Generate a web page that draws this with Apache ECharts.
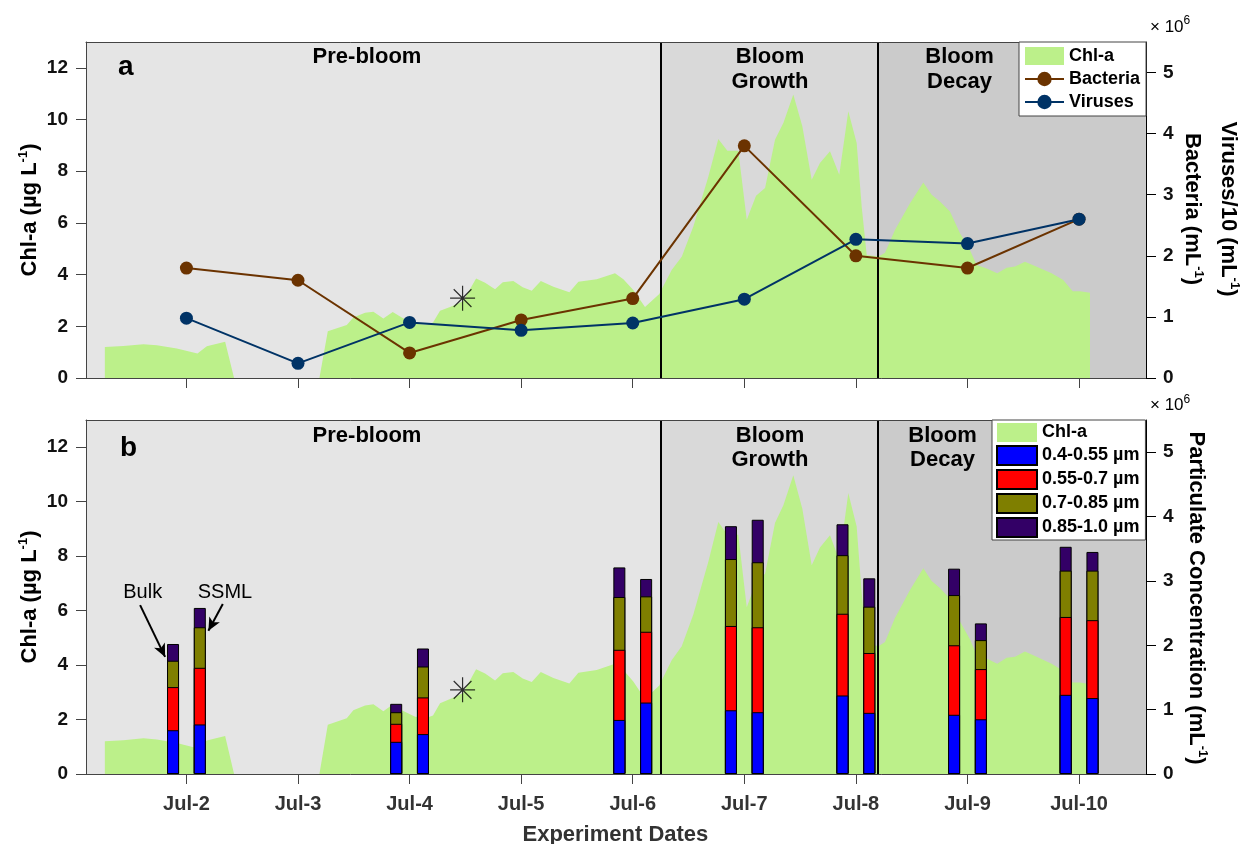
<!DOCTYPE html>
<html><head><meta charset="utf-8">
<script src="https://cdn.jsdelivr.net/npm/echarts@6/dist/echarts.min.js"></script>
<style>html,body{margin:0;padding:0;background:#fff}#c{width:1248px;height:844px}</style>
</head><body><div id="c"></div>
<script>
// ---------- data ----------
const dayTicks   = [2, 3, 4, 5, 6, 7, 8, 9, 10];
const tickLabels = ['Jul-2','Jul-3','Jul-4','Jul-5','Jul-6','Jul-7','Jul-8','Jul-9','Jul-10'];
const chlTicks   = [0, 2, 4, 6, 8, 10, 12];
const rightTicks = [0, 1, 2, 3, 4, 5];
const xMin = 1.10, xMax = 10.60;
const phaseBounds = [6.254, 8.204];

const chlDay = [1.269,1.435,1.615,1.735,1.914,2.099,2.183,2.347,2.427,3.192,3.267,3.437,3.496,3.601,3.676,3.765,3.849,3.930,4.050,4.150,4.210,4.273,4.363,4.480,4.596,4.677,4.766,4.835,4.930,5.014,5.095,5.176,5.289,5.432,5.513,5.677,5.841,5.916,6.005,6.110,6.238,6.349,6.439,6.543,6.678,6.767,6.848,6.946,7.022,7.105,7.186,7.275,7.350,7.439,7.520,7.604,7.678,7.768,7.851,7.932,8.007,8.052,8.097,8.205,8.261,8.350,8.485,8.604,8.679,8.753,8.843,8.933,9.022,9.082,9.172,9.267,9.351,9.426,9.515,9.605,9.754,9.858,9.943,10.008,10.098];
const chlVal = [1.20,1.24,1.31,1.27,1.14,0.95,1.23,1.40,0,0,1.81,2.05,2.34,2.52,2.56,2.30,2.55,2.34,2.10,2.06,2.15,2.60,2.75,2.97,3.85,3.69,3.43,3.70,3.75,3.51,3.38,3.75,3.53,3.32,3.72,3.82,4.05,3.82,3.40,2.75,3.25,4.18,4.69,5.86,7.80,9.25,8.79,8.79,6.12,7.05,7.35,9.22,9.87,10.97,9.74,7.67,8.32,8.77,7.86,10.32,9.09,6.63,4.76,4.70,4.85,5.73,6.76,7.56,7.09,6.83,6.44,5.60,4.95,4.37,4.24,4.05,4.27,4.31,4.50,4.33,4.05,3.79,3.36,3.36,3.30];

const sampleDays = [2, 3, 4, 5, 6, 7, 8, 9, 10];
const bacteria   = [1.80, 1.60, 0.41, 0.95, 1.30, 3.80, 2.00, 1.80, 2.60];
const viruses    = [0.98, 0.24, 0.91, 0.78, 0.90, 1.29, 2.27, 2.20, 2.60];

const starPoint = [4.475, 3.09];

const particleDays = [2, 4, 6, 7, 8, 9, 10];
const bulk040 = [0.68, 0.50, 0.84, 0.99, 1.22, 0.92, 1.23];
const bulk055 = [0.67, 0.28, 1.09, 1.31, 1.27, 1.08, 1.21];
const bulk070 = [0.41, 0.18, 0.82, 1.04, 0.91, 0.78, 0.72];
const bulk085 = [0.26, 0.13, 0.46, 0.51, 0.48, 0.41, 0.37];
const ssml040 = [0.77, 0.62, 1.11, 0.96, 0.95, 0.85, 1.18];
const ssml055 = [0.88, 0.57, 1.10, 1.32, 0.93, 0.78, 1.21];
const ssml070 = [0.63, 0.48, 0.55, 1.01, 0.72, 0.45, 0.77];
const ssml085 = [0.30, 0.28, 0.27, 0.66, 0.44, 0.26, 0.29];
const sizeNames = ['0.4-0.55 µm', '0.55-0.7 µm', '0.7-0.85 µm', '0.85-1.0 µm'];
const sampleOffset = 0.12;   // Bulk left of the day, SSML right

const arrowBulk = [[1.585, 6.20], [1.809, 4.30]];
const arrowSsml = [[2.326, 6.24], [2.197, 5.26]];

// ---------- styling ----------
const FONT = '"Liberation Sans", Arial, Helvetica, sans-serif';
const GREEN = '#bcf08a', BROWN = '#6b3300', NAVY = '#003366';
const BAR_COLORS = ['#0000ff', '#ff0000', '#7f7f00', '#330066'];

const chlData = chlDay.map((d, i) => [d, chlVal[i]]);
const zip = (xs, ys) => xs.map((x, i) => [x, ys[i]]);

// cumulative (stacked) tops of each size class
const bulkSets = [bulk040, bulk055, bulk070, bulk085];
const ssmlSets = [ssml040, ssml055, ssml070, ssml085];
const cumulate = sets => sets.map((s, k) => s.map((_, i) => {
  let t = 0; for (let j = 0; j <= k; j++) t += sets[j][i]; return +t.toFixed(3);
}));
const bulkCum = cumulate(bulkSets), ssmlCum = cumulate(ssmlSets);
const barData = (b, s) => particleDays.map((d, i) => [d - sampleOffset, b[i]])
  .concat(particleDays.map((d, i) => [d + sampleOffset, s[i]]));

function xAx(grid, pos, labels) {
  return {
    type: 'value', gridIndex: grid, position: pos, min: xMin, max: xMax, z: 10,
    axisLine: { show: true, onZero: false, lineStyle: { color: '#444', width: 1 } },
    axisTick: pos === 'bottom' ? { show: true, inside: false, length: 10, customValues: dayTicks, lineStyle: { color: '#444' } } : { show: false },
    axisLabel: labels ? {
      show: true, customValues: dayTicks, margin: 20,
      formatter: v => tickLabels[dayTicks.indexOf(Math.round(v))],
      fontSize: 20, fontWeight: 'bold', color: '#333', fontFamily: FONT
    } : { show: false },
    splitLine: { show: false }
  };
}
function yAx(grid, pos, max, ticks) {
  const c = pos === 'left' ? '#444' : '#000';
  return {
    type: 'value', gridIndex: grid, position: pos, min: 0, max: max, z: 10,
    axisLine: { show: true, onZero: false, lineStyle: { color: c, width: 1 } },
    axisTick: { show: true, inside: false, length: 10, customValues: ticks, lineStyle: { color: c } },
    axisLabel: { show: true, customValues: ticks, margin: pos === 'left' ? 18 : 17,
      fontSize: 19, fontWeight: 'bold', color: '#111', fontFamily: FONT },
    splitLine: { show: false }
  };
}

function panelSeries(g) {
  const xi = g, yl = g * 2;
  const list = [];
  list.push({
    type: 'line', name: 'bg' + g, xAxisIndex: xi, yAxisIndex: yl, data: [], z: 1, silent: true,
    markArea: { silent: true, data: [
      [{ xAxis: phaseBounds[0], itemStyle: { color: '#d9d9d9' } }, { xAxis: phaseBounds[1] }],
      [{ xAxis: phaseBounds[1], itemStyle: { color: '#cbcbcb' } }, { xAxis: xMax }]
    ] }
  });
  list.push({
    type: 'line', name: 'Chl-a', xAxisIndex: xi, yAxisIndex: yl, data: chlData, z: 2,
    symbol: 'none', showSymbol: false, color: GREEN,
    lineStyle: { width: 0, opacity: 0 }, areaStyle: { color: GREEN, opacity: 1 }
  });
  list.push({
    type: 'line', name: 'phase' + g, xAxisIndex: xi, yAxisIndex: yl, data: [], z: 6, silent: true,
    markLine: { silent: true, symbol: 'none', label: { show: false },
      lineStyle: { color: '#000', width: 2, type: 'solid' },
      data: phaseBounds.map(b => ({ xAxis: b })) }
  });
  list.push({
    type: 'scatter', name: 'star' + g, xAxisIndex: xi, yAxisIndex: yl, data: [starPoint], z: 7,
    symbol: 'path://M12 0 L12 24 M0 12 L24 12 M3.5 3.5 L20.5 20.5 M3.5 20.5 L20.5 3.5',
    symbolSize: 25, itemStyle: { color: 'rgba(0,0,0,0)', borderColor: '#000', borderWidth: 1.2 }
  });
  return list;
}

const series = [];
series.push(...panelSeries(0));
series.push({
  type: 'line', name: 'Bacteria', xAxisIndex: 0, yAxisIndex: 1, data: zip(sampleDays, bacteria), z: 5,
  color: BROWN, symbol: 'circle', symbolSize: 13, lineStyle: { width: 2, color: BROWN }, itemStyle: { color: BROWN }
});
series.push({
  type: 'line', name: 'Viruses', xAxisIndex: 0, yAxisIndex: 1, data: zip(sampleDays, viruses), z: 5,
  color: NAVY, symbol: 'circle', symbolSize: 13, lineStyle: { width: 2, color: NAVY }, itemStyle: { color: NAVY }
});
series.push(...panelSeries(1));
// draw the tallest cumulative class first so lower classes sit on top of it
[3, 2, 1, 0].forEach(k => {
  series.push({
    type: 'bar', name: sizeNames[k], xAxisIndex: 1, yAxisIndex: 3, z: 4,
    data: barData(bulkCum[k], ssmlCum[k]), barWidth: 12, barGap: '-100%', color: BAR_COLORS[k],
    itemStyle: { color: BAR_COLORS[k], borderColor: '#000', borderWidth: 1 }
  });
});
series.push({
  type: 'line', name: 'arrows', xAxisIndex: 1, yAxisIndex: 2, data: [], z: 8, silent: true,
  markLine: { silent: true, symbol: ['none', 'arrow'], symbolSize: [9, 13], label: { show: false },
    lineStyle: { color: '#000', width: 2, type: 'solid' },
    data: [
      [{ coord: arrowBulk[0] }, { coord: arrowBulk[1] }],
      [{ coord: arrowSsml[0] }, { coord: arrowSsml[1] }]
    ] }
});

// ---------- text helpers ----------
function T(x, base, text, size, weight, align, fill) {
  return {
    type: 'text', x: x, y: base - 0.35 * size, z: 100,
    style: { text: text, font: (weight || 'bold') + ' ' + size + 'px ' + FONT, fill: fill || '#000',
      align: align || 'center', verticalAlign: 'middle' }
  };
}
function RT(cx, cy, rot, main) {
  return {
    type: 'text', x: cx, y: cy, rotation: rot, z: 100,
    style: {
      text: '{m|' + main + '}{s|-1}{m|)}',
      align: 'center', verticalAlign: 'middle',
      rich: {
        m: { font: 'bold 22px ' + FONT, fill: '#000', lineHeight: 26 },
        s: { font: 'bold 13px ' + FONT, fill: '#000', verticalAlign: 'top', lineHeight: 14 }
      }
    }
  };
}

const graphics = [
  T(118, 76.7, 'a', 28, 'bold', 'left'),
  T(120, 458.3, 'b', 28, 'bold', 'left'),
  T(367, 65, 'Pre-bloom', 22), T(770, 65, 'Bloom', 22), T(770, 89.3, 'Growth', 22),
  T(959.5, 65, 'Bloom', 22), T(959.5, 89.3, 'Decay', 22),
  T(367, 443.4, 'Pre-bloom', 22), T(770, 443.4, 'Bloom', 22), T(770, 467.7, 'Growth', 22),
  T(942.5, 443.4, 'Bloom', 22), T(942.5, 467.7, 'Decay', 22),
  T(142.7, 599, 'Bulk', 20, 'normal'), T(225, 599, 'SSML', 20, 'normal'),
  T(615.4, 842.5, 'Experiment Dates', 22, 'bold', 'center', '#333'),
  T(1150, 33.3, '× 10', 17, 'normal', 'left'), T(1183.5, 25, '6', 12, 'normal', 'left'),
  T(1150, 411.7, '× 10', 17, 'normal', 'left'), T(1183.5, 403.4, '6', 12, 'normal', 'left'),
  RT(30, 210, Math.PI / 2, 'Chl-a (µg L'),
  RT(30, 597, Math.PI / 2, 'Chl-a (µg L'),
  RT(1192, 209, -Math.PI / 2, 'Bacteria (mL'),
  RT(1228, 209, -Math.PI / 2, 'Viruses/10 (mL'),
  RT(1196, 598, -Math.PI / 2, 'Particulate Concentration (mL')
];

const option = {
  animation: false,
  backgroundColor: '#fff',
  textStyle: { fontFamily: FONT },
  grid: [
    { left: 86, right: 102, top: 42, height: 336, show: true, backgroundColor: '#e5e5e5', borderWidth: 0, containLabel: false, outerBoundsMode: 'none' },
    { left: 86, right: 102, top: 420, height: 354, show: true, backgroundColor: '#e5e5e5', borderWidth: 0, containLabel: false, outerBoundsMode: 'none' }
  ],
  xAxis: [xAx(0, 'bottom', false), xAx(1, 'bottom', true), xAx(0, 'top', false), xAx(1, 'top', false)],
  yAxis: [yAx(0, 'left', 13, chlTicks), yAx(0, 'right', 5.5, rightTicks), yAx(1, 'left', 13, chlTicks), yAx(1, 'right', 5.5, rightTicks)],
  legend: [
    {
      data: [{ name: 'Chl-a', icon: 'rect' }, 'Bacteria', 'Viruses'],
      orient: 'vertical', left: 1019, top: 42, z: 50, selectedMode: false,
      backgroundColor: '#fff', borderColor: '#444', borderWidth: 1, borderRadius: 0,
      padding: [5, 6, 5, 5], itemGap: 5, itemWidth: 39, itemHeight: 18,
      textStyle: { fontSize: 18, lineHeight: 18, fontWeight: 'bold', color: '#000', fontFamily: FONT }
    },
    {
      data: [{ name: 'Chl-a', icon: 'rect' }].concat(sizeNames.map(n => ({ name: n, icon: 'rect' }))),
      orient: 'vertical', left: 992, top: 420, z: 50, selectedMode: false,
      backgroundColor: '#fff', borderColor: '#444', borderWidth: 1, borderRadius: 0,
      padding: [3, 6, 2, 4], itemGap: 3, itemWidth: 40, itemHeight: 19,
      textStyle: { fontSize: 18, lineHeight: 19, fontWeight: 'bold', color: '#000', fontFamily: FONT }
    }
  ],
  series: series,
  graphic: graphics
};
const chart = echarts.init(document.getElementById('c'), null, { renderer: 'canvas' });
chart.setOption(option);
</script></body></html>
